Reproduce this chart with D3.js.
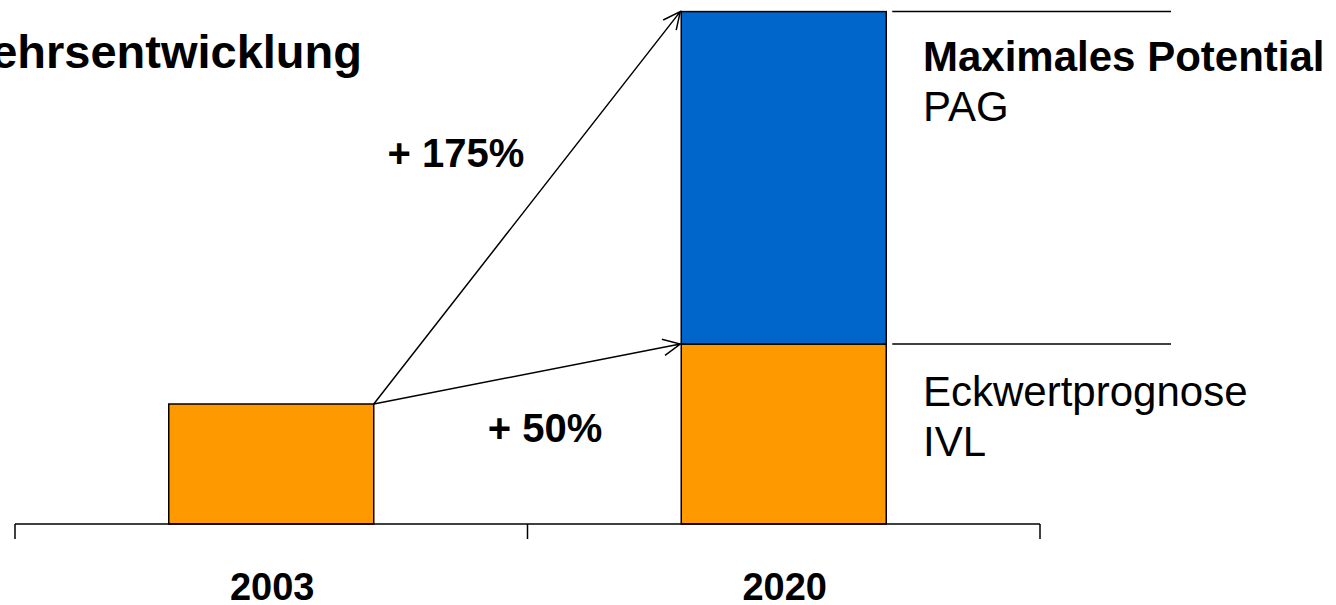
<!DOCTYPE html>
<html>
<head>
<meta charset="utf-8">
<script src="https://cdn.jsdelivr.net/npm/d3@7"></script>
<style>
  html, body { margin: 0; padding: 0; background: #fff; }
  svg { display: block; font-family: "Liberation Sans", Arial, sans-serif; }
</style>
</head>
<body>
<svg id="chart" width="1336" height="605"></svg>
<script>
// Traffic development: base year vs. forecast year
const years = ["2003", "2020"];
const baseValues = [100, 150];        // 2003 actual, 2020 Eckwertprognose IVL (index)
const potentialValues = [0, 277];     // additional maximum potential PAG stacked on top
const growthLabels = ["+ 50%", "+ 175%"];
const seriesLabels = [
  { bold: "Eckwertprognose", rest: "IVL", boldWeight: false },
  { bold: "Maximales Potential", rest: "PAG", boldWeight: true }
];
const titleText = "Verkehrsentwicklung";

const colors = { base: "#FF9900", potential: "#0066CC", ink: "#000" };

const svg = d3.select("#chart");

const x = d3.scaleBand()
  .domain(years)
  .range([15, 1040])
  .paddingInner(0.6)
  .paddingOuter(0.3);

const y = d3.scaleLinear()
  .domain([0, 430])
  .range([524, 8]);

const rows = years.map((yr, i) => ({
  year: yr,
  base: baseValues[i],
  potential: potentialValues[i],
  total: baseValues[i] + potentialValues[i]
}));

// title
svg.append("text")
  .attr("x", 362)
  .attr("y", 68)
  .attr("text-anchor", "end")
  .attr("font-size", 47)
  .attr("font-weight", "bold")
  .text(titleText);

// bars
const g = svg.append("g");
g.selectAll("rect.base")
  .data(rows)
  .join("rect")
  .attr("class", "base")
  .attr("x", d => x(d.year))
  .attr("width", x.bandwidth())
  .attr("y", d => y(d.base))
  .attr("height", d => y(0) - y(d.base))
  .attr("fill", colors.base)
  .attr("stroke", colors.ink)
  .attr("stroke-width", 1.5);

g.selectAll("rect.pot")
  .data(rows.filter(d => d.potential > 0))
  .join("rect")
  .attr("class", "pot")
  .attr("x", d => x(d.year))
  .attr("width", x.bandwidth())
  .attr("y", d => y(d.total))
  .attr("height", d => y(d.base) - y(d.total))
  .attr("fill", colors.potential)
  .attr("stroke", colors.ink)
  .attr("stroke-width", 1.5);

// category axis: baseline with ticks at band boundaries
const [r0, r1] = x.range();
const bounds = [r0, r0 + (r1 - r0) / 2, r1];
const axis = svg.append("g");
axis.append("line")
  .attr("x1", r0).attr("x2", r1)
  .attr("y1", y(0)).attr("y2", y(0))
  .attr("stroke", colors.ink).attr("stroke-width", 1.5);
axis.selectAll("line.tick")
  .data(bounds)
  .join("line")
  .attr("class", "tick")
  .attr("x1", d => d).attr("x2", d => d)
  .attr("y1", y(0)).attr("y2", y(0) + 15)
  .attr("stroke", colors.ink).attr("stroke-width", 1.5);
axis.selectAll("text")
  .data(years)
  .join("text")
  .attr("x", d => x(d) + x.bandwidth() / 2 + 1)
  .attr("y", 600)
  .attr("text-anchor", "middle")
  .attr("font-size", 38)
  .attr("font-weight", "bold")
  .text(d => d);

// growth arrows from the 2003 bar to the 2020 levels
const from = rows[0], to = rows[1];
const sx = x(from.year) + x.bandwidth(), sy = y(from.base);
const tx = x(to.year) - 1;
const targets = [y(to.base), y(to.total)];

function arrow(x1, y1, x2, y2) {
  const a = Math.atan2(y2 - y1, x2 - x1);
  const len = 19, spread = Math.PI / 7;
  const p = d3.path();
  p.moveTo(x1, y1); p.lineTo(x2, y2);
  p.moveTo(x2 - len * Math.cos(a - spread), y2 - len * Math.sin(a - spread));
  p.lineTo(x2, y2);
  p.lineTo(x2 - len * Math.cos(a + spread), y2 - len * Math.sin(a + spread));
  return p.toString();
}

svg.selectAll("path.arrow")
  .data(targets)
  .join("path")
  .attr("class", "arrow")
  .attr("d", ty => arrow(sx, sy, tx, ty))
  .attr("fill", "none")
  .attr("stroke", colors.ink)
  .attr("stroke-width", 1.5);

// growth labels
const growthPos = [
  { x: 545, y: 442 },
  { x: 456, y: 167 }
];
svg.selectAll("text.growth")
  .data(growthLabels)
  .join("text")
  .attr("class", "growth")
  .attr("x", (d, i) => growthPos[i].x)
  .attr("y", (d, i) => growthPos[i].y)
  .attr("text-anchor", "middle")
  .attr("font-size", 40)
  .attr("font-weight", "bold")
  .text(d => d);

// level markers and series labels to the right of the 2020 bar
const levels = [to.base, to.total];
const lx1 = x(to.year) + x.bandwidth() + 6, lx2 = 1171;
svg.selectAll("line.level")
  .data(levels)
  .join("line")
  .attr("class", "level")
  .attr("x1", lx1).attr("x2", lx2)
  .attr("y1", d => y(d)).attr("y2", d => y(d))
  .attr("stroke", colors.ink).attr("stroke-width", 1.5);

const labelY = [406, 71];
seriesLabels.forEach((s, i) => {
  const t = svg.append("text")
    .attr("x", 923)
    .attr("y", labelY[i])
    .attr("font-size", 42);
  t.append("tspan")
    .attr("font-weight", s.boldWeight ? "bold" : "normal")
    .text(s.bold);
  t.append("tspan")
    .attr("x", 923)
    .attr("dy", 50)
    .text(s.rest);
});
</script>
</body>
</html>
